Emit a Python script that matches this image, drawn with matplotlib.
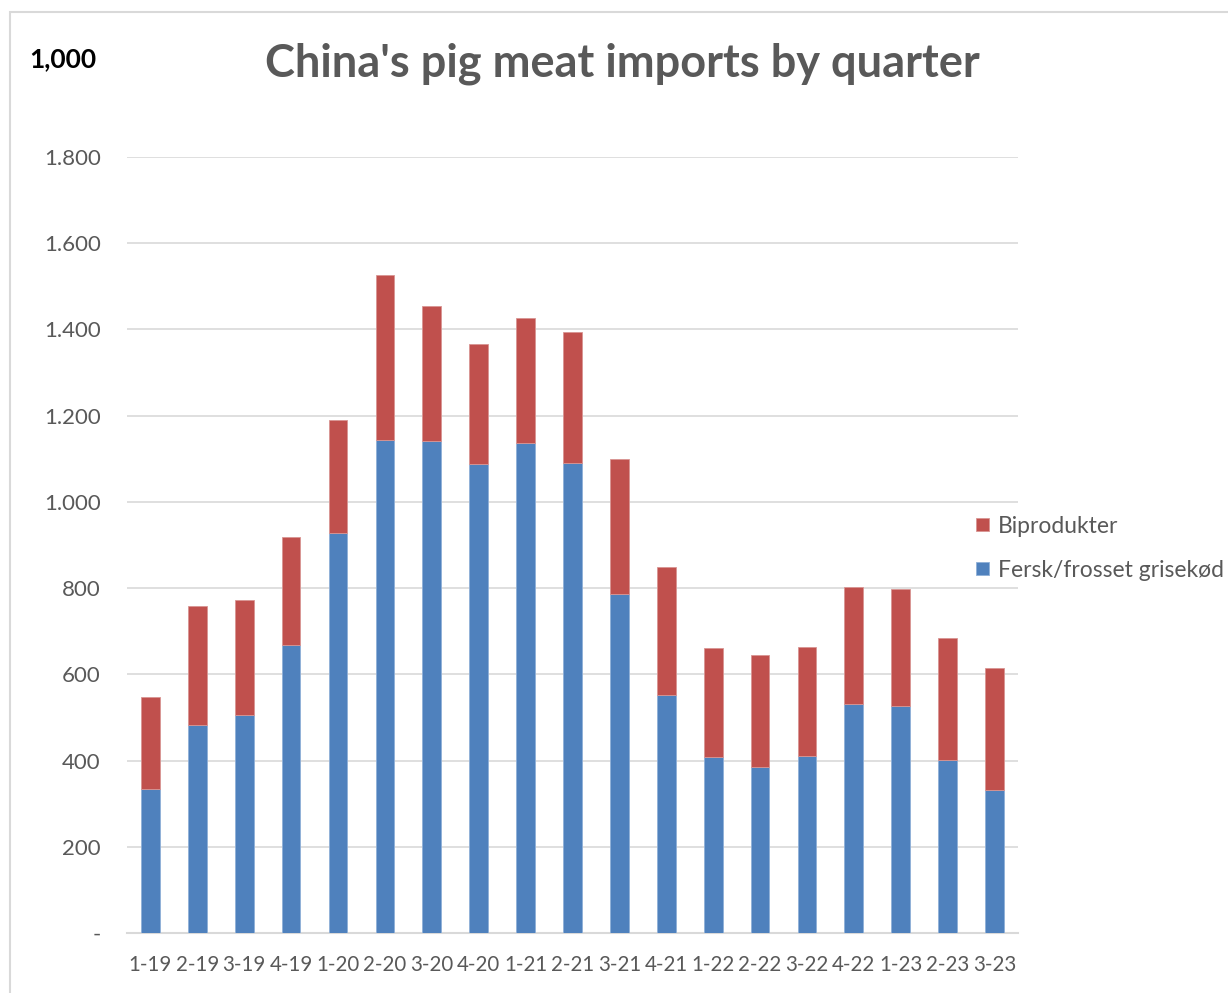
import matplotlib.pyplot as plt
from matplotlib.patches import Rectangle
from matplotlib.ticker import FuncFormatter

plt.rcParams['font.family'] = ['Lato', 'DejaVu Sans']

quarters = ['1-19', '2-19', '3-19', '4-19', '1-20', '2-20', '3-20', '4-20',
            '1-21', '2-21', '3-21', '4-21', '1-22', '2-22', '3-22', '4-22',
            '1-23', '2-23', '3-23']
# fersk/frosset grisekød (tusind tons)
fersk = [334, 482, 506, 668, 928, 1144, 1141, 1088, 1137, 1090, 786, 552,
         408, 385, 411, 531, 527, 401, 332]
# total inkl. biprodukter
total = [547, 758, 772, 918, 1190, 1526, 1454, 1366, 1427, 1394, 1100, 849,
         661, 645, 663, 803, 798, 684, 615]
biprod = [t - f for t, f in zip(total, fersk)]

blue = '#4f81bd'
red = '#c0504d'
grey_txt = '#595959'

fig = plt.figure(figsize=(12.28, 9.93), dpi=100)
ax = fig.add_axes([0.1034, 0.0604, 0.7256, 0.7816])

x = range(len(quarters))
b1 = ax.bar(x, fersk, width=0.4, color=blue, edgecolor='#8fb0d8', linewidth=0.6,
            label='Fersk/frosset grisekød', zorder=3)
b2 = ax.bar(x, biprod, bottom=fersk, width=0.4, color=red, edgecolor='#d99593',
            linewidth=0.6, label='Biprodukter', zorder=3)

ax.set_xlim(-0.5, len(quarters) - 0.5)
ax.set_ylim(0, 1800)
ax.set_yticks(range(0, 1801, 200))
ax.yaxis.set_major_formatter(FuncFormatter(
    lambda v, p: '-' if v == 0 else f'{int(v):,}'.replace(',', '.')))
ax.set_xticks(list(x))
ax.set_xticklabels(quarters)
ax.tick_params(axis='both', length=0, colors=grey_txt)
ax.tick_params(axis='y', pad=19, labelsize=16)
ax.tick_params(axis='x', pad=16, labelsize=14.8)
ax.grid(axis='y', color='#d9d9d9', linewidth=1.2, zorder=0)
for s in ['top', 'right', 'left']:
    ax.spines[s].set_visible(False)
ax.spines['bottom'].set_color('#d9d9d9')
ax.spines['bottom'].set_linewidth(1.5)

fig.text(0.507, 0.936, "China's pig meat imports by quarter", ha='center', va='center',
         fontsize=32.5, fontweight='bold', color=grey_txt)
fig.text(0.024, 0.94, '1,000', ha='left', va='center', fontsize=19,
         fontweight='bold', color='black')

ax.legend(handles=[b2, b1], loc='center left', bbox_to_anchor=(0.930, 0.496),
          frameon=False, fontsize=16.5, labelcolor=grey_txt, handlelength=0.55,
          handleheight=0.55, handletextpad=0.4, labelspacing=1.0)

fig.add_artist(Rectangle((0.008, -0.01), 1.0, 0.998, transform=fig.transFigure,
                         fill=False, edgecolor='#d9d9d9', linewidth=1.5))

fig.savefig('out.png', dpi=100)
